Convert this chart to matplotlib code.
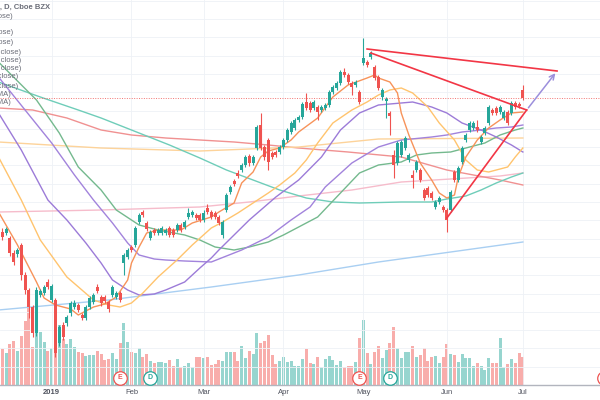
import numpy as np
import matplotlib.pyplot as plt

plt.rcParams['font.family'] = ['Liberation Sans', 'DejaVu Sans']

# daily bars, mid Dec 2018 -> 1 Jul 2019 (index 14 = 2 Jan)
opens = [37.4, 36.8, 36.7, 36.2, 34.7, 34.6, 35.5, 32.5, 31.0, 29.3,
         26.7, 30.5, 30.7, 31.8, 30.0, 30.0, 25.7, 27.5, 27.7, 28.7,
         29.3, 29.5, 28.5, 28.2, 29.3, 29.8, 31.3, 30.3, 30.3, 29.8,
         30.5, 30.3, 30.7, 33.7, 34.3, 35.3, 35.5, 37.8, 38.8, 37.7,
         36.2, 37.0, 36.7, 36.7, 36.7, 37.2, 37.0, 37.0, 37.5, 37.3,
         38.3, 38.5, 38.5, 38.5, 38.0, 39.2, 38.8, 38.7, 38.3, 36.5,
         39.0, 40.8, 41.9, 42.7, 43.0, 43.5, 44.4, 43.7, 45.2, 47.5,
         45.3, 46.0, 44.7, 44.8, 44.8, 45.3, 46.0, 46.8, 47.2, 48.0,
         48.3, 49.8, 49.7, 49.2, 49.3, 49.0, 49.2, 49.5, 50.8, 51.2,
         51.7, 52.8, 52.5, 51.7, 51.5, 50.8, 53.7, 53.8, 54.3, 53.3,
         52.3, 50.3, 49.9, 48.7, 44.5, 43.7, 44.5, 45.2, 44.0, 42.5,
         43.0, 43.0, 41.0, 41.2, 40.7, 39.3, 39.8, 39.3, 39.0, 39.0,
         42.8, 42.0, 43.8, 46.0, 47.0, 47.2, 47.3, 45.8, 46.7, 47.7,
         49.0, 49.2, 48.8, 48.2, 48.8, 48.7, 49.7, 49.6, 51.0]
highs = [37.6, 37.2, 37.3, 36.4, 35.0, 35.2, 35.7, 32.8, 31.2, 29.5,
         31.3, 31.1, 31.5, 32.1, 31.6, 30.2, 27.5, 27.8, 28.5, 29.9,
         30.0, 29.7, 28.7, 29.5, 30.4, 30.7, 31.6, 30.5, 30.5, 30.0,
         31.5, 30.9, 30.9, 34.7, 35.2, 35.5, 37.4, 38.7, 39.0, 37.9,
         37.0, 37.2, 37.2, 37.4, 37.2, 37.4, 37.2, 37.7, 37.7, 38.0,
         39.2, 39.0, 38.7, 38.7, 39.0, 39.6, 39.0, 38.9, 38.5, 38.0,
         40.7, 41.5, 42.1, 43.0, 43.7, 44.5, 44.6, 44.5, 47.5, 48.7,
         45.5, 46.2, 44.9, 45.0, 45.5, 46.2, 47.2, 47.9, 48.2, 48.5,
         49.8, 50.7, 49.9, 50.0, 49.5, 49.5, 49.7, 51.0, 51.5, 51.9,
         53.0, 53.2, 52.7, 51.9, 52.0, 51.0, 56.2, 54.0, 54.9, 53.5,
         52.5, 51.2, 50.3, 48.9, 45.0, 45.9, 46.0, 46.4, 44.7, 43.0,
         44.0, 43.2, 41.2, 41.4, 40.9, 40.0, 40.4, 39.5, 39.2, 41.0,
         43.0, 43.4, 45.4, 46.7, 47.9, 47.9, 48.0, 46.5, 47.4, 49.5,
         49.2, 49.4, 49.5, 49.0, 49.0, 49.9, 49.9, 49.8, 51.5]
lows = [36.8, 36.0, 36.5, 34.4, 33.5, 34.3, 32.0, 30.6, 28.2, 26.3,
        26.4, 30.3, 30.5, 31.1, 29.8, 24.3, 25.4, 26.0, 27.4, 28.4,
        29.1, 28.8, 28.0, 28.0, 29.1, 29.6, 30.7, 29.4, 29.7, 28.8,
        30.3, 30.1, 29.8, 32.5, 34.1, 34.8, 35.3, 37.6, 38.3, 36.9,
        36.0, 36.5, 36.5, 36.5, 36.5, 36.3, 36.3, 36.8, 36.8, 37.1,
        38.1, 38.3, 38.0, 37.8, 37.8, 38.6, 38.1, 38.1, 37.5, 36.2,
        38.8, 40.6, 41.4, 42.2, 42.8, 43.3, 43.4, 43.5, 45.0, 45.0,
        44.0, 43.0, 44.1, 44.3, 44.6, 45.1, 45.8, 46.6, 47.0, 47.8,
        48.1, 49.0, 48.8, 49.0, 48.0, 48.8, 49.0, 49.3, 50.6, 51.0,
        51.5, 52.3, 51.6, 50.5, 51.3, 49.6, 53.5, 53.3, 54.1, 52.0,
        51.0, 50.0, 48.2, 46.5, 42.2, 43.5, 44.3, 45.0, 43.8, 41.2,
        42.8, 41.8, 40.0, 40.3, 40.0, 39.1, 39.6, 38.8, 36.8, 38.8,
        41.8, 41.8, 43.6, 45.8, 46.8, 47.0, 46.8, 45.6, 46.5, 47.5,
        48.5, 48.5, 48.6, 48.0, 47.5, 48.5, 49.1, 49.2, 50.0]
closes = [37.0, 36.3, 37.1, 34.7, 33.8, 35.0, 32.5, 31.0, 29.3, 26.7,
          31.0, 30.9, 31.3, 31.3, 31.4, 24.7, 27.3, 26.3, 28.3, 29.7,
          29.7, 29.0, 28.2, 29.3, 30.2, 30.5, 30.9, 29.7, 29.9, 29.1,
          31.3, 30.7, 30.0, 34.5, 35.0, 35.0, 37.2, 38.5, 38.5, 37.1,
          36.8, 36.7, 37.0, 37.2, 37.0, 36.5, 36.5, 37.5, 37.0, 37.8,
          38.7, 38.8, 38.2, 38.0, 38.7, 38.8, 38.3, 38.3, 37.7, 37.8,
          40.5, 41.3, 41.6, 42.4, 43.5, 44.3, 43.7, 44.3, 47.3, 45.2,
          44.3, 43.8, 44.3, 44.5, 45.3, 46.0, 47.0, 47.7, 48.0, 48.3,
          49.6, 49.2, 49.0, 49.8, 48.8, 49.3, 49.5, 50.8, 51.3, 51.7,
          52.8, 52.5, 51.8, 51.3, 51.8, 49.8, 54.2, 53.5, 54.7, 52.2,
          51.2, 51.0, 50.1, 48.4, 43.5, 45.7, 45.8, 46.2, 44.5, 42.2,
          43.8, 42.0, 40.2, 40.5, 40.2, 39.8, 40.2, 39.0, 38.0, 40.8,
          42.0, 43.2, 45.2, 46.5, 47.7, 47.7, 47.0, 46.3, 47.2, 49.3,
          48.7, 48.7, 49.3, 48.8, 47.7, 49.7, 49.3, 49.4, 50.2]
volume_m = [3.0, 3.6, 3.2, 4.1, 4.4, 3.4, 4.9, 6.4, 8.0, 3.8,
            7.0, 5.3, 4.3, 3.4, 3.7, 4.0, 6.0, 4.6, 4.1, 4.6,
            3.8, 3.3, 3.2, 2.9, 3.0, 3.0, 3.4, 3.1, 2.5, 2.6,
            3.2, 2.6, 4.2, 6.2, 4.3, 3.3, 3.2, 3.7, 2.8, 3.1,
            2.4, 2.2, 2.3, 2.3, 2.2, 2.5, 1.9, 2.6, 1.8, 1.9,
            2.2, 1.8, 2.8, 2.8, 2.7, 2.8, 2.0, 2.1, 2.5, 2.4,
            3.3, 3.3, 3.3, 2.4, 3.9, 2.7, 3.4, 3.1, 5.2, 4.2,
            4.4, 5.0, 3.0, 2.1, 2.4, 2.8, 2.3, 2.4, 1.9, 1.9,
            2.6, 3.6, 2.2, 2.1, 2.8, 1.8, 2.6, 2.9, 2.5, 2.0,
            2.4, 1.8, 1.9, 1.9, 2.3, 4.7, 6.5, 3.2, 2.1, 3.3,
            3.9, 2.7, 3.5, 4.2, 5.8, 3.7, 2.7, 3.3, 3.3, 3.9,
            2.8, 3.0, 3.7, 2.4, 2.8, 2.9, 2.2, 2.8, 4.1, 3.1,
            3.0, 2.3, 3.1, 2.7, 2.7, 1.9, 2.2, 1.9, 1.5, 2.7,
            2.2, 2.2, 4.7, 1.8, 2.1, 2.6, 2.2, 3.2, 2.8]

month_bars = [14, 35, 54, 75, 96, 118, 138]
month_labels = ['2019', 'Feb', 'Mar', 'Apr', 'May', 'Jun', 'Jul']

# moving averages (bar index, value)
ema_fast_x = [0, 5, 10, 12, 15, 19, 21, 25, 28, 31, 34, 35, 37, 39, 42, 48, 51, 56, 58, 62,
              64, 67, 69, 71, 74, 77, 79, 84, 88, 92, 97, 99, 100, 103, 105, 106, 108, 111, 114, 116,
              118, 120, 121, 123, 126, 129, 132, 135, 138]
ema_fast_y = [38.8, 35.5, 31.8, 30.2, 29.5, 29.1, 28.5, 29.3, 29.6, 30.3, 32.0, 33.7, 35.3, 36.7, 37.0, 37.0, 37.7, 38.3, 38.8, 39.7,
              41.7, 42.8, 44.3, 44.9, 45.2, 46.0, 46.8, 48.2, 50.3, 51.5, 52.2, 52.5, 52.2, 51.8, 50.7, 48.7, 46.5, 43.7, 42.0, 40.7,
              40.2, 40.5, 42.3, 44.3, 46.0, 47.2, 48.0, 48.7, 48.8]
ema_mid_x = [0, 6, 11, 18, 25, 29, 32, 35, 38, 42, 47, 51, 56, 59, 63, 67, 71, 74, 78, 81,
             84, 88, 93, 97, 100, 103, 106, 109, 113, 116, 120, 123, 126, 129, 131, 134, 136, 138]
ema_mid_y = [44.3, 40.0, 36.0, 32.3, 30.0, 29.5, 29.3, 29.7, 30.7, 32.3, 34.0, 35.5, 37.2, 37.8, 38.7, 39.7, 40.7, 41.5, 42.7, 44.0,
             45.7, 47.7, 49.0, 49.8, 50.5, 51.0, 51.2, 50.7, 49.3, 47.7, 46.0, 44.0, 43.0, 42.8, 43.0, 43.3, 44.3, 45.2]
sma50_x = [0, 6, 13, 18, 23, 27, 30, 34, 37, 41, 44, 49, 53, 56, 58, 66, 73, 79, 85, 90,
           95, 100, 106, 109, 114, 118, 122, 127, 131, 135, 138]
sma50_y = [48.7, 45.0, 40.0, 38.0, 35.7, 33.7, 32.0, 31.0, 30.5, 30.6, 31.0, 31.8, 33.2, 34.2, 35.0, 38.0, 40.3, 42.0, 44.3, 47.0,
           48.7, 49.5, 49.7, 49.8, 49.3, 48.7, 47.7, 47.0, 46.3, 45.5, 44.8]
sma100_x = [0, 7, 14, 20, 25, 30, 34, 37, 41, 44, 49, 56, 64, 71, 77, 82, 86, 93, 100, 106,
            114, 118, 122, 127, 131, 135, 138]
sma100_y = [52.3, 49.0, 45.7, 42.5, 40.0, 37.7, 35.7, 34.5, 34.1, 34.0, 33.9, 33.8, 35.0, 36.3, 38.0, 39.3, 41.3, 43.7, 45.3, 46.0,
            46.3, 46.5, 46.8, 47.0, 47.2, 47.3, 47.5]
sma150_x = [0, 10, 16, 21, 27, 31, 37, 42, 49, 53, 57, 62, 66, 71, 75, 79, 84, 90, 95, 100,
            106, 110, 114, 119, 123, 128, 132, 136, 138]
sma150_y = [53.8, 50.0, 46.7, 43.3, 41.0, 39.0, 37.5, 37.0, 36.5, 36.0, 35.3, 35.0, 35.3, 35.8, 36.5, 37.3, 38.3, 40.7, 42.7, 43.5,
            43.8, 44.5, 44.7, 44.8, 45.2, 45.7, 46.5, 47.0, 47.2]
sma200_x = [0, 11, 21, 27, 37, 45, 53, 60, 67, 74, 81, 88, 95, 106, 114, 118, 123, 127, 131, 135, 138]
sma200_y = [51.8, 50.3, 49.0, 48.2, 46.7, 45.5, 44.2, 43.0, 42.0, 41.0, 40.2, 39.8, 39.7, 39.8, 39.8, 40.1, 40.4, 41.0, 41.7, 42.3, 42.7]
ema100_x = [0, 9, 18, 27, 35, 44, 53, 62, 71, 79, 92, 106, 118, 132, 138]
ema100_y = [49.2, 49.0, 48.2, 47.0, 46.5, 46.2, 46.0, 45.8, 45.5, 45.2, 44.8, 44.3, 43.0, 42.0, 41.5]
ema200_x = [0, 27, 53, 66, 79, 93, 106, 119, 132, 138]
ema200_y = [38.8, 39.0, 39.3, 39.8, 40.4, 41.0, 41.8, 42.1, 42.4, 42.7]
ema50_x = [0, 27, 53, 79, 100, 138]
ema50_y = [45.8, 45.2, 44.9, 45.3, 46.1, 46.2]
ma_long_x = [0, 29, 56, 79, 100, 138]
ma_long_y = [29.0, 30.0, 31.3, 32.5, 33.8, 35.8]

# drawings: (bar, price) anchors
top_line_x, top_line_y = [97, 147], [55.1, 52.9]
mid_line_x, mid_line_y = [98, 139], [54.7, 49.0]
support_x, support_y = [118, 139], [38.2, 49.0]
proj_x, proj_y = [139, 147], [49.0, 52.9]

event_bars = [32, 40, 95, 103]
event_kinds = ['E', 'D', 'E', 'D']
next_event_bar = 159.3

legend_rows = ['XYZ, D, Cboe BZX', 'Vol (20, close)', 'EMA (10, close)', 'EMA (20, close)',
               'SMA (50, close)', 'SMA (100, close)', 'SMA (150, close)', 'SMA (200, close)',
               'EMA (50, close)', 'EMA (100, SMA)', 'EMA (200, SMA)']

up, down = '#26a69a', '#ef5350'
o, h, l, c = map(np.array, (opens, highs, lows, closes))
bars = np.arange(len(c))
rising = c >= o
candle_col = np.where(rising, up, down)
vol_col = np.where(rising, '#97d5cf', '#f8adab')

fig = plt.figure(figsize=(6, 4), dpi=100)
ax = fig.add_axes([0, 15 / 400, 1, 385 / 400])
vax = ax.twinx()
ax.set_zorder(vax.get_zorder() + 1)
ax.patch.set_visible(False)

vax.bar(bars, volume_m, width=0.8, color=vol_col, linewidth=0)
vax.set_ylim(0, 38.5)
vax.set_axis_off()

ax.set_xlim(0.4, 158.3)
ax.set_ylim(21.5, 60)
ax.set_yticks(np.arange(21.5, 60, 1.83))
ax.set_xticks(month_bars)
ax.set_xticklabels(month_labels, fontsize=5.5, color='#50535e')
ax.get_xticklabels()[0].set_fontweight('bold')
ax.tick_params(axis='x', length=0, pad=3)
ax.tick_params(axis='y', left=False, labelleft=False)
ax.grid(True, color='#eef1f6', lw=0.6)
ax.set_axisbelow(True)
for s in ['top', 'left', 'right']:
    ax.spines[s].set_visible(False)
ax.spines['bottom'].set_color('#b2b5be')
ax.spines['bottom'].set_linewidth(1.0)

ma_specs = [
    (ma_long_x, ma_long_y, '#a9cff2'),
    (ema200_x, ema200_y, '#f6bccb'),
    (ema100_x, ema100_y, '#f09191'),
    (ema50_x, ema50_y, '#fdd39a'),
    (sma200_x, sma200_y, '#6fcdb9'),
    (sma150_x, sma150_y, '#74b98e'),
    (sma100_x, sma100_y, '#a283dc'),
    (sma50_x, sma50_y, '#9c7bd8'),
    (ema_mid_x, ema_mid_y, '#ffc46e'),
    (ema_fast_x, ema_fast_y, '#f7935a'),
]
for xs, ys, col in ma_specs:
    ax.plot(xs, ys, color=col, lw=1.0, solid_joinstyle='round', zorder=2)

ax.vlines(bars, l, h, colors=candle_col, lw=0.8, zorder=3)
ax.bar(bars, np.maximum(np.abs(c - o), 0.15), bottom=np.minimum(o, c), width=0.76,
       color=candle_col, linewidth=0, zorder=3)

ax.axhline(c[-1], color='#ef5350', lw=0.7, ls=(0, (1, 1.5)), alpha=0.8, zorder=2)

for xs, ys in [(top_line_x, top_line_y), (mid_line_x, mid_line_y), (support_x, support_y)]:
    ax.plot(xs, ys, color='#f23645', lw=1.2, zorder=4)
ax.annotate('', xy=(proj_x[1], proj_y[1]), xytext=(proj_x[0], proj_y[0]),
            arrowprops=dict(arrowstyle='->', color='#9c8fdc', lw=1.1, mutation_scale=9), zorder=4)

tr = ax.get_xaxis_transform()
for b, kind in zip(event_bars, event_kinds):
    col = down if kind == 'E' else up
    ax.scatter([b], [0.019], transform=tr, s=95, facecolor='white', edgecolor=col,
               linewidth=0.9, clip_on=False, zorder=6)
    ax.text(b, 0.019, kind, transform=tr, ha='center', va='center', fontsize=5,
            color=col, fontweight='bold', zorder=7, clip_on=False)
# upcoming earnings marker, mostly off the right edge
ax.scatter([next_event_bar], [0.019], transform=tr, s=95, facecolor='white', edgecolor=down,
           linewidth=0.9, clip_on=False, zorder=6)

row_y = [7, 17, 33, 43, 52, 60, 69, 77, 86, 94, 103]
row_right = [50, 13, 13, 13, 21, 21, 21, 18, 18, 11, 11]
for i, (txt, yy, xr) in enumerate(zip(legend_rows, row_y, row_right)):
    fig.text(xr / 600, 1 - yy / 400, txt, ha='right', va='center', fontsize=5.5,
             color='#6a6d78', fontweight='bold' if i == 0 else 'normal')

fig.savefig('out.png', dpi=100)
